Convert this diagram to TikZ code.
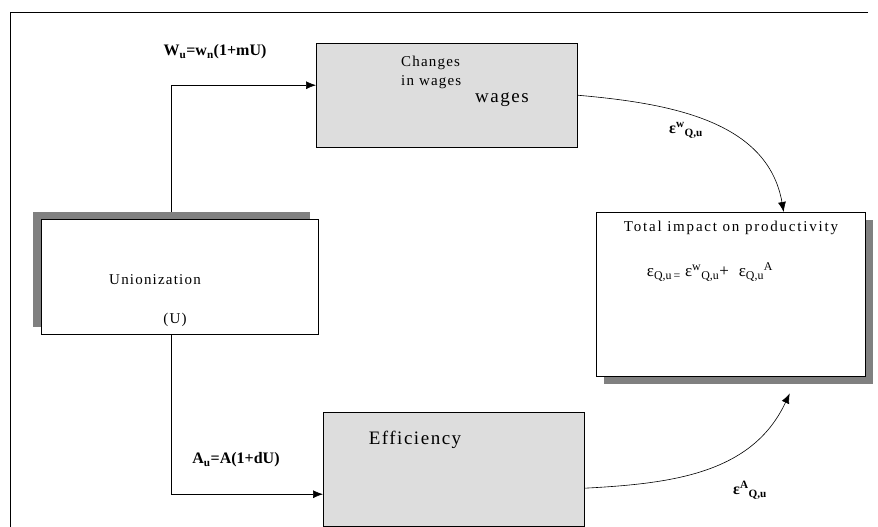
\documentclass[tikz,border=0pt]{standalone}
\usepackage{fontspec}
\setmainfont{Liberation Serif}
\newfontfamily\spaced[LetterSpace=8]{Liberation Serif}
\newfontfamily\wider[LetterSpace=12]{Liberation Serif}
\usepackage{tikz}
\usetikzlibrary{calc,arrows,arrows.meta,positioning}
\definecolor{boxgray}{HTML}{DDDDDD}
\definecolor{shadegray}{HTML}{808080}
\tikzset{
  grbox/.style={draw, fill=boxgray, anchor=north west, inner sep=0pt},
  whbox/.style={draw, fill=white, anchor=north west, inner sep=0pt},
  shade/.style={fill=shadegray, anchor=north west, inner sep=0pt},
  lbl/.style={inner sep=0pt, font=\fontsize{15}{19}\selectfont\spaced},
  eqlbl/.style={inner sep=0pt, font=\fontsize{16}{18}\selectfont\bfseries},
  arr/.style={-{Latex[length=10pt,width=8pt]}, semithick}
}

\begin{document}
\begin{tikzpicture}[x=1pt,y=-1pt]
\useasboundingbox (0,0) rectangle (878,527);
\coordinate (tl) at (10,12);
\draw[thick] (tl -| 868,0) -- (tl) -- (tl |- 0,527);
\node[grbox, minimum width=261pt, minimum height=104pt] (wages) at (316,43) {};
\node[shade, minimum width=277pt, minimum height=115pt] (ushadow) at (33,212) {};
\node[whbox, minimum width=277pt, minimum height=115pt] (union) at (41,219) {};
\node[shade, minimum width=269pt, minimum height=164pt] (tshadow) at (604,220) {};
\node[whbox, minimum width=269pt, minimum height=164pt] (total) at (596,212) {};
\node[grbox, minimum width=261pt, minimum height=114pt] (eff) at (323,412) {};
\node[lbl, anchor=west, align=left] (chg) at (401,72) {Changes\\in wages};
\node[lbl, font=\fontsize{19}{21}\selectfont\spaced] (wg) at (502,100) {wages};
\node[lbl] (un) at (155,280) {Unionization};
\node[lbl] (uu) at (175,320) {(U)};
\node[lbl, font=\fontsize{15}{19}\selectfont\wider] (tot) at (731,228) {Total impact on productivity};
\node[lbl, font=\fontsize{19}{21}\selectfont\spaced] (ef) at (415,440) {Efficiency};
\node[lbl, font=\fontsize{17}{19}\selectfont] (form) at (710,272)
  {ε\textsubscript{Q,u\,=} ε\textsuperscript{w}\textsubscript{Q,u}+\,\, ε\textsubscript{Q,u}\textsuperscript{A}};
\node[eqlbl] (wu) at (215,52) {W\textsubscript{u}=w\textsubscript{n}(1+mU)};
\node[eqlbl] (au) at (236,460) {A\textsubscript{u}=A(1+dU)};
\node[eqlbl] (ew) at (686,130) {ε\textsuperscript{w}\textsubscript{Q,u}};
\node[eqlbl] (ea) at (750,490) {ε\textsuperscript{A}\textsubscript{Q,u}};
\draw[arr] (ushadow.north) |- ([yshift=10pt]wages.west);
\draw[arr] (union.south -| ushadow.south) |- ([yshift=-25pt]eff.west);
\draw[arr] (wages.east) to[out=-5,in=100] ([xshift=53pt]total.north);
\draw[arr] ([yshift=-19pt]eff.east) to[out=3,in=-115] ([xshift=59pt,yshift=-17pt]total.south);
\end{tikzpicture}
\end{document}
